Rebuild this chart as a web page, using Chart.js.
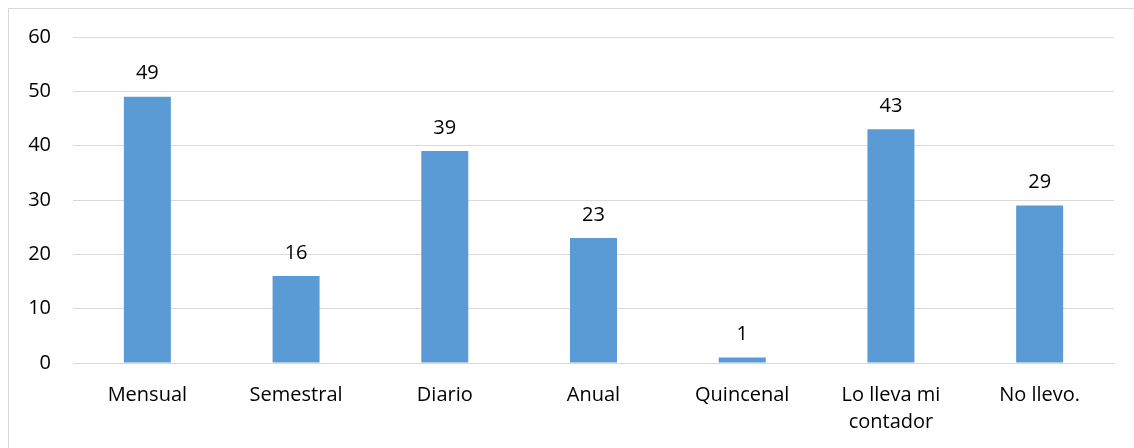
<!DOCTYPE html>
<html>
<head>
<meta charset="utf-8">
<script src="https://cdn.jsdelivr.net/npm/chart.js@4.4.1/dist/chart.umd.min.js"></script>
<style>
  html, body { margin: 0; padding: 0; background: #fff; overflow: hidden; }
  #frame {
    position: absolute; left: 8px; top: 8px;
    width: 1140px; height: 450px;
    border: 1.5px solid #d9d9d9; box-sizing: border-box;
  }
  #wrap { position: absolute; left: 0; top: 0; width: 1134px; height: 448px; }
</style>
</head>
<body>
<div id="frame"></div>
<div id="wrap"><canvas id="barChart"></canvas></div>
<script>
// Datos del gráfico
const categorias = ["Mensual", "Semestral", "Diario", "Anual", "Quincenal", ["Lo lleva mi", "contador"], "No llevo."];
const valores = [49, 16, 39, 23, 1, 43, 29];
const ejeYMin = 0;
const ejeYMax = 60;
const ejeYPaso = 10;

// Plugin para escribir el valor encima de cada barra
const etiquetasValor = {
    id: 'etiquetasValor',
    afterDatasetsDraw(chart) {
        const ctx = chart.ctx;
        const meta = chart.getDatasetMeta(0);
        ctx.save();
        ctx.font = '20px "Open Sans"';
        ctx.fillStyle = '#000';
        ctx.textAlign = 'center';
        ctx.textBaseline = 'middle';
        meta.data.forEach(function (bar, i) {
            ctx.fillText(String(chart.data.datasets[0].data[i]), bar.x, bar.y - 23);
        });
        ctx.restore();
    }
};

const ctx = document.getElementById('barChart').getContext('2d');
new Chart(ctx, {
    type: 'bar',
    data: {
        labels: categorias,
        datasets: [{
            data: valores,
            backgroundColor: '#5b9bd5',
            borderWidth: 0,
            barPercentage: 0.316,
            categoryPercentage: 1
        }]
    },
    options: {
        responsive: true,
        maintainAspectRatio: false,
        animation: false,
        layout: {
            padding: { left: 0, right: 20, top: 37, bottom: 0 }
        },
        scales: {
            x: {
                grid: { display: false, drawTicks: false },
                border: { display: true, color: '#d9d9d9', width: 1 },
                ticks: {
                    color: '#000',
                    font: { family: 'Open Sans', size: 20, lineHeight: 1.35 },
                    padding: 19,
                    maxRotation: 0,
                    autoSkip: false
                },
                afterFit: function (scale) { scale.height = 85; }
            },
            y: {
                min: ejeYMin,
                max: ejeYMax,
                grid: { color: '#d9d9d9', lineWidth: 1, drawTicks: false },
                border: { display: false },
                ticks: {
                    stepSize: ejeYPaso,
                    color: '#000',
                    font: { family: 'Open Sans', size: 20 },
                    padding: 22
                },
                afterFit: function (scale) { scale.width = 73; }
            }
        },
        plugins: {
            legend: { display: false },
            tooltip: { enabled: false }
        }
    },
    plugins: [etiquetasValor]
});
</script>
</body>
</html>
